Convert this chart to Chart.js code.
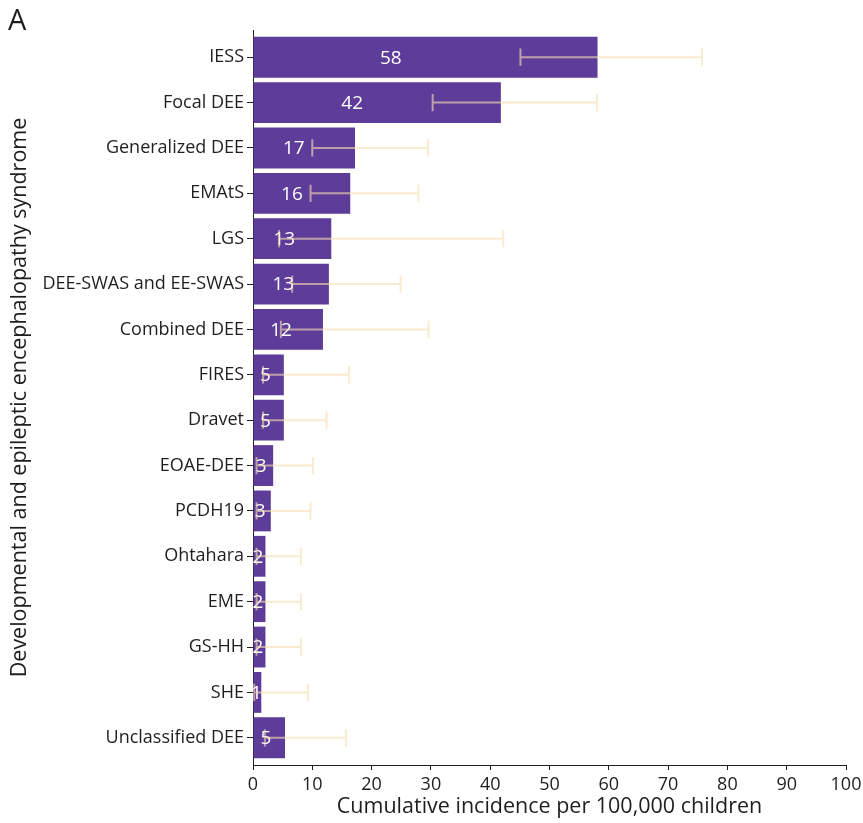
<!DOCTYPE html>
<html>
<head>
<meta charset="utf-8">
<title>Cumulative incidence of DEE syndromes</title>
<script src="https://cdn.jsdelivr.net/npm/chart.js@4.4.1/dist/chart.umd.min.js"></script>
<style>
  html, body { margin: 0; padding: 0; background: #ffffff; }
  canvas { display: block; }
</style>
</head>
<body>
<canvas id="chart" width="863" height="823"></canvas>
<script>
// Syndromes, top to bottom
const syndromes = [
  "IESS", "Focal DEE", "Generalized DEE", "EMAtS", "LGS",
  "DEE-SWAS and EE-SWAS", "Combined DEE", "FIRES", "Dravet", "EOAE-DEE",
  "PCDH19", "Ohtahara", "EME", "GS-HH", "SHE", "Unclassified DEE"
];
// Cumulative incidence per 100,000 children
const incidence = [58.1, 41.8, 17.2, 16.4, 13.2, 12.8, 11.8, 5.2, 5.2, 3.4, 3.0, 2.1, 2.1, 2.1, 1.4, 5.4];
// 95% confidence interval bounds
const ciLower = [45.1, 30.3, 10.0, 9.7, 4.4, 6.6, 4.7, 1.7, 1.7, 0.6, 0.6, 0.6, 0.6, 0.6, 0.2, 2.0];
const ciUpper = [75.7, 58.0, 29.5, 27.9, 42.2, 24.9, 29.6, 16.2, 12.4, 10.1, 9.7, 8.1, 8.1, 8.1, 9.3, 15.7];
// Horizontal axis ticks
const xTicks = [0, 10, 20, 30, 40, 50, 60, 70, 80, 90, 100];

const FONT = "'Open Sans', 'Noto Sans', sans-serif";
const INK = "#1e1e1e";
Chart.defaults.font.family = FONT;

// Value labels inside the bars and confidence-interval whiskers
const annotate = {
  id: "annotate",
  afterDatasetsDraw(chart) {
    const { ctx, scales: { x, y } } = chart;
    const band = Math.abs(y.getPixelForValue(1) - y.getPixelForValue(0));
    ctx.save();
    ctx.font = "19px " + FONT;
    ctx.fillStyle = "#ffffff";
    ctx.textAlign = "center";
    ctx.textBaseline = "middle";
    incidence.forEach((v, i) => {
      ctx.fillText(String(Math.round(v)), x.getPixelForValue(v * 0.4), y.getPixelForValue(i) + 1);
    });
    ctx.strokeStyle = "rgba(245, 222, 179, 0.62)";
    ctx.lineWidth = 2;
    const cap = band * 0.19;
    incidence.forEach((v, i) => {
      const cy = y.getPixelForValue(i);
      const x0 = x.getPixelForValue(ciLower[i]);
      const x1 = x.getPixelForValue(ciUpper[i]);
      ctx.beginPath();
      ctx.moveTo(x0, cy); ctx.lineTo(x1, cy);
      ctx.moveTo(x0, cy - cap); ctx.lineTo(x0, cy + cap);
      ctx.moveTo(x1, cy - cap); ctx.lineTo(x1, cy + cap);
      ctx.stroke();
    });
    ctx.restore();
  },
  afterDraw(chart) {
    const { ctx } = chart;
    ctx.save();
    ctx.font = "29px " + FONT;
    ctx.fillStyle = INK;
    ctx.textAlign = "left";
    ctx.textBaseline = "alphabetic";
    ctx.fillText("A", 8, 30);
    ctx.restore();
  }
};

new Chart(document.getElementById("chart"), {
  type: "bar",
  data: {
    datasets: [{
      data: incidence.map((v, i) => ({ x: v, y: i })),
      backgroundColor: "#5e3c99",
      borderWidth: 0,
      barPercentage: 0.9,
      categoryPercentage: 1
    }]
  },
  options: {
    indexAxis: "y",
    responsive: false,
    animation: false,
    layout: { padding: { top: 30, right: 17, left: 0, bottom: 0 } },
    plugins: { legend: { display: false }, tooltip: { enabled: false } },
    scales: {
      x: {
        type: "linear",
        min: 0,
        max: 100,
        afterBuildTicks: s => { s.ticks = xTicks.map(v => ({ value: v })); },
        afterFit: s => { s.height = 58; s.paddingRight = 0; },
        ticks: { color: INK, font: { size: 18 }, padding: 4, maxRotation: 0 },
        grid: { drawOnChartArea: false, tickLength: 5, color: INK },
        border: { color: INK, width: 1 },
        title: {
          display: true,
          text: "Cumulative incidence per 100,000 children",
          color: INK,
          font: { size: 21.5 },
          padding: { top: 0, bottom: 3 }
        }
      },
      y: {
        type: "linear",
        reverse: true,
        offset: false,
        min: -0.6,
        max: 15.6,
        afterBuildTicks: s => { s.ticks = syndromes.map((_, i) => ({ value: i })); },
        afterFit: s => { s.width = 253; },
        ticks: {
          color: INK,
          font: { size: 18 },
          padding: 3,
          autoSkip: false,
          callback: v => syndromes[v]
        },
        grid: { drawOnChartArea: false, offset: false, tickLength: 6, color: INK },
        border: { color: INK, width: 1 },
        title: {
          display: true,
          text: "Developmental and epileptic encephalopathy syndrome",
          color: INK,
          font: { size: 21.5 },
          padding: { top: 7, bottom: 0 }
        }
      }
    }
  },
  plugins: [annotate]
});
</script>
</body>
</html>
